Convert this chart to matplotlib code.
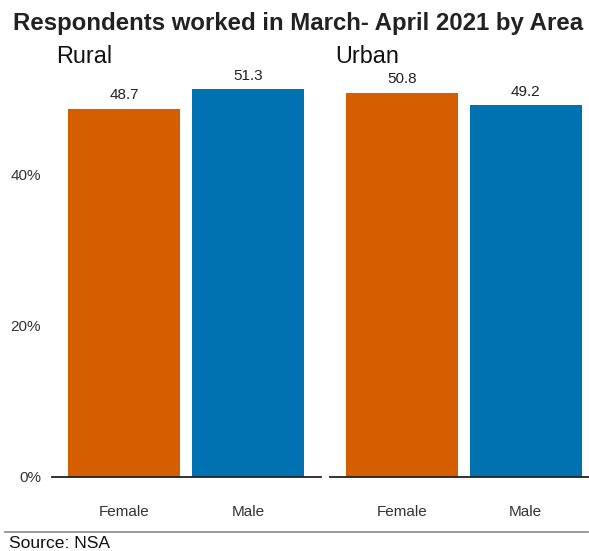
import matplotlib.pyplot as plt

plt.rcParams['font.family'] = ['Liberation Sans', 'DejaVu Sans']

areas = ["Rural", "Urban"]
sexes = ["Female", "Male"]
rural_vals = [48.7, 51.3]
urban_vals = [50.8, 49.2]
colors = ["#D55E00", "#0072B2"]

W, H = 589, 551
fig = plt.figure(figsize=(5.89, 5.51), dpi=100)
ax1 = fig.add_axes([52 / W, 74 / H, 269 / W, 420 / H])
ax2 = fig.add_axes([330 / W, 74 / H, 259 / W, 420 / H])

# panel label x positions (pixels)
label_x = {"Rural": 56, "Urban": 335}

for ax, area, vals, xr in [(ax1, areas[0], rural_vals, 1.59), (ax2, areas[1], urban_vals, 1.51)]:
    x = range(len(sexes))
    ax.bar(x, vals, width=0.9, color=colors)
    for xi, v in zip(x, vals):
        ax.text(xi, v + 1.3, f"{v}", ha="center", va="baseline", fontsize=11, color="#222222")
    ax.set_xlim(-0.58, xr)
    ax.set_ylim(0, 55.6)
    ax.set_xticks(list(x))
    ax.set_xticklabels(sexes, fontsize=11, color="#333333")
    ax.tick_params(axis="x", length=0, pad=20)
    for s in ["top", "right", "left"]:
        ax.spines[s].set_visible(False)
    ax.spines["bottom"].set_color("#222222")
    ax.spines["bottom"].set_linewidth(1.3)
    fig.text(label_x[area] / W, 1 - 63 / H, area, fontsize=16.8,
             ha="left", va="baseline", color="#111111")

ax1.set_yticks([0, 20, 40])
ax1.set_yticklabels(["0%", "20%", "40%"], fontsize=11, color="#333333")
ax1.tick_params(axis="y", length=0, pad=8)
ax2.set_yticks([])

fig.text(13 / W, 1 - 30 / H, "Respondents worked in March- April 2021 by Area", ha="left", va="baseline",
         fontsize=17.3, fontweight="bold", color="#222222")
fig.add_artist(plt.Line2D([5 / W, 588 / W], [1 - 532 / H, 1 - 532 / H], color="#888888", lw=1.2))
fig.text(9 / W, 1 - 548 / H, "Source: NSA", ha="left", va="baseline", fontsize=12.6, color="#111111")

fig.savefig("out.png", dpi=100)
